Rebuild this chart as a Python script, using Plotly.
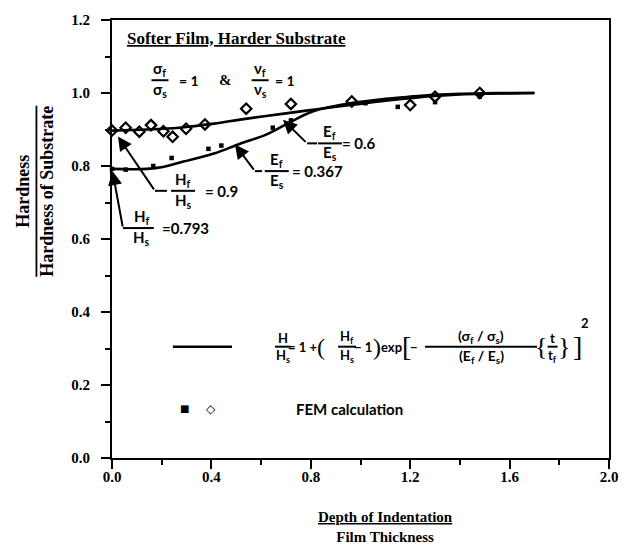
import plotly.graph_objects as go

# ---- data ----
fem_square_x = [0.0, 0.055, 0.166, 0.24, 0.388, 0.44, 0.647, 0.72, 1.02, 1.15, 1.3, 1.48]
fem_square_y = [0.792, 0.79, 0.80, 0.822, 0.847, 0.856, 0.905, 0.925, 0.972, 0.962, 0.975, 0.99]

fem_diamond_x = [0.0, 0.055, 0.11, 0.157, 0.207, 0.244, 0.298, 0.374, 0.54, 0.72, 0.965, 1.2, 1.3, 1.48]
fem_diamond_y = [0.897, 0.905, 0.894, 0.912, 0.895, 0.880, 0.902, 0.914, 0.957, 0.970, 0.977, 0.967, 0.99, 1.0]

model_e06_x = [0.0, 0.14, 0.27, 0.41, 0.515, 0.62, 0.73, 0.84, 0.97, 1.1, 1.2, 1.3, 1.4, 1.5, 1.6, 1.7]
model_e06_y = [0.897, 0.90, 0.905, 0.916, 0.927, 0.937, 0.947, 0.957, 0.968, 0.979, 0.986, 0.992, 0.996, 0.998, 0.999, 1.0]

model_e0367_x = [0.0, 0.14, 0.205, 0.27, 0.41, 0.515, 0.62, 0.70, 0.81, 0.97, 1.1, 1.2, 1.3, 1.4, 1.5, 1.6, 1.7]
model_e0367_y = [0.792, 0.792, 0.797, 0.809, 0.834, 0.861, 0.886, 0.914, 0.95, 0.973, 0.984, 0.99, 0.995, 0.998, 0.999, 1.0, 1.0]

x_tick_vals = [0.0, 0.4, 0.8, 1.2, 1.6, 2.0]
x_tick_text = ["0.0", "0.4", "0.8", "1.2", "1.6", "2.0"]
y_tick_vals = [0.0, 0.2, 0.4, 0.6, 0.8, 1.0, 1.2]
y_tick_text = ["0.0", "0.2", "0.4", "0.6", "0.8", "1.0", "1.2"]

SERIF = "Liberation Serif"
SANS = "Lato"

fig = go.Figure()

for xs, ys in [(model_e06_x, model_e06_y), (model_e0367_x, model_e0367_y)]:
    fig.add_trace(go.Scatter(x=xs, y=ys, mode="lines", line=dict(color="black", width=2.6, shape="spline"),
                             cliponaxis=False, hoverinfo="skip"))

fig.add_trace(go.Scatter(x=fem_diamond_x, y=fem_diamond_y, mode="markers",
                         marker=dict(symbol="diamond-open", size=8, color="black", line=dict(width=2.2, color="black")),
                         cliponaxis=False))
fig.add_trace(go.Scatter(x=fem_square_x, y=fem_square_y, mode="markers",
                         marker=dict(symbol="square", size=4.5, color="black"),
                         cliponaxis=False))

annotations = []
shapes = []


def text(x, y, s, size=14, family=SANS, anchor="center", weight="bold", yshift=0):
    annotations.append(dict(x=x, y=y, xref="x", yref="y", text=s, showarrow=False,
                            xanchor=anchor, yanchor="middle", yshift=yshift,
                            font=dict(family=family, size=size, color="black", weight=weight)))


def frac(x, y, num, den, width, size=14, family=SANS):
    annotations.append(dict(x=x, y=y, xref="x", yref="y", text=num, showarrow=False,
                            xanchor="center", yanchor="bottom", yshift=-1,
                            font=dict(family=family, size=size, color="black", weight="bold")))
    annotations.append(dict(x=x, y=y, xref="x", yref="y", text=den, showarrow=False,
                            xanchor="center", yanchor="top", yshift=2,
                            font=dict(family=family, size=size, color="black", weight="bold")))
    shapes.append(dict(type="line", xref="x", yref="y", xsizemode="pixel", xanchor=x,
                       x0=-width / 2, x1=width / 2, y0=y, y1=y, line=dict(color="black", width=2)))


def leader(tip, elbow, end):
    annotations.append(dict(x=tip[0], y=tip[1], ax=elbow[0], ay=elbow[1], xref="x", yref="y",
                            axref="x", ayref="y", text="", showarrow=True, arrowhead=2,
                            arrowsize=1.4, arrowwidth=2, arrowcolor="black"))
    shapes.append(dict(type="line", xref="x", yref="y", x0=elbow[0], y0=elbow[1], x1=end[0], y1=end[1],
                       line=dict(color="black", width=2)))


# title inside plot
text(0.052, 1.149, "<u>Softer Film, Harder Substrate</u>", size=17, family=SERIF, anchor="left")
frac(0.193, 1.035, "σ<sub>f</sub>", "σ<sub>s</sub>", 17, size=15)
text(0.262, 1.035, "= 1", size=14, anchor="left")
text(0.455, 1.035, "&", size=15, family=SERIF)
frac(0.596, 1.035, "ν<sub>f</sub>", "ν<sub>s</sub>", 17, size=15)
text(0.648, 1.035, "= 1", size=14, anchor="left")

# labelled leaders
leader((0.024, 0.881), (0.173, 0.732), (0.221, 0.732))
frac(0.286, 0.732, "H<sub>f</sub>", "H<sub>s</sub>", 24, size=15)
text(0.366, 0.732, "= 0.9", size=15, anchor="left")

leader((0.002, 0.786), (0.044, 0.630), (0.072, 0.630))
frac(0.12, 0.630, "H<sub>f</sub>", "H<sub>s</sub>", 24, size=15)
text(0.193, 0.630, "=0.793", size=15, anchor="left")

leader((0.495, 0.859), (0.575, 0.786), (0.604, 0.786))
frac(0.663, 0.786, "E<sub>f</sub>", "E<sub>s</sub>", 24, size=15)
text(0.716, 0.786, "= 0.367", size=15, anchor="left")

leader((0.688, 0.927), (0.785, 0.862), (0.825, 0.862))
frac(0.877, 0.862, "E<sub>f</sub>", "E<sub>s</sub>", 24, size=15)
text(0.918, 0.862, "= 0.6", size=15, anchor="left")

# legend: model line
shapes.append(dict(type="line", xref="x", yref="y", x0=0.245, x1=0.483, y0=0.305, y1=0.305,
                   line=dict(color="black", width=2.5)))
fy = 0.305
frac(0.688, fy, "H", "H<sub>s</sub>", 16, size=13)
text(0.768, fy, "= 1 +", size=13)
text(0.84, fy, "(", size=24, family=SERIF, weight="normal")
frac(0.946, fy, "H<sub>f</sub>", "H<sub>s</sub>", 18, size=13)
text(1.012, fy, "− 1", size=13)
text(1.066, fy, ")", size=24, family=SERIF, weight="normal")
text(1.126, fy, "exp", size=13)
text(1.186, fy, "[", size=28, family=SERIF, weight="normal")
text(1.214, fy, "−", size=13)
frac(1.485, fy, "(σ<sub>f</sub> / σ<sub>s</sub>)", "(E<sub>f</sub> / E<sub>s</sub>)", 112, size=14)
text(1.725, fy, "{", size=26, family=SERIF, weight="normal")
frac(1.773, fy, "t", "t<sub>f</sub>", 10, size=13)
text(1.82, fy, "}", size=26, family=SERIF, weight="normal")
text(1.875, fy, "]", size=28, family=SERIF, weight="normal")
text(1.905, 0.37, "2", size=13)

# legend: FEM symbols
text(0.29, 0.135, "■", size=10, family="DejaVu Sans", weight="normal")
text(0.40, 0.135, "◇", size=12, family="DejaVu Sans", weight="bold")
text(0.954, 0.135, "FEM calculation", size=15)

# axis titles
annotations.append(dict(x=1.1, y=-0.158, xref="x", yref="paper", text="<u>Depth of Indentation</u><br>Film Thickness",
                        showarrow=False, xanchor="center", yanchor="middle",
                        font=dict(family=SERIF, size=15, color="black", weight="bold")))
annotations.append(dict(x=-0.155, y=0.61, xref="paper", yref="paper", textangle=-90,
                        text="Hardness<br><span style='text-decoration:overline'>Hardness of Substrate</span>",
                        showarrow=False, xanchor="center", yanchor="middle",
                        font=dict(family=SERIF, size=18, color="black", weight="bold")))

axis_common = dict(showgrid=False, zeroline=False, showline=True, linecolor="black", linewidth=2,
                   mirror=True, ticks="outside", ticklen=9, tickwidth=2, tickcolor="black",
                   tickfont=dict(family=SERIF, size=15, color="black", weight="bold"))

fig.update_layout(
    width=637, height=554,
    margin=dict(l=112, r=28, t=14, b=96),
    paper_bgcolor="white", plot_bgcolor="white",
    showlegend=False,
    xaxis=dict(range=[0, 2], tickvals=x_tick_vals, ticktext=x_tick_text,
               minor=dict(dtick=0.2, ticks="outside", ticklen=5, tickwidth=2, tickcolor="black"),
               ticklabelstandoff=-5, **axis_common),
    yaxis=dict(range=[0, 1.2], tickvals=y_tick_vals, ticktext=y_tick_text,
               minor=dict(dtick=0.1, ticks="outside", ticklen=5, tickwidth=2, tickcolor="black"),
               ticklabelstandoff=8, **axis_common),
    annotations=annotations,
    shapes=shapes,
)

fig.write_html("out.html")
